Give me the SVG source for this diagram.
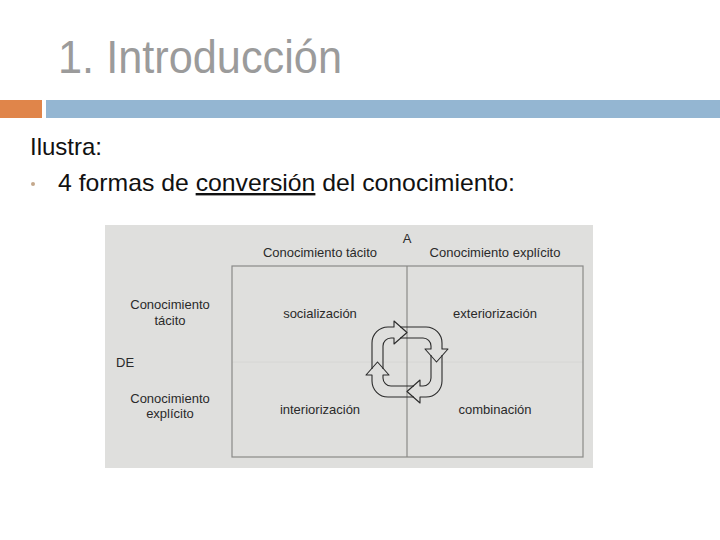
<svg xmlns="http://www.w3.org/2000/svg" width="720" height="540" viewBox="0 0 720 540">
<style>
.t{font-family:"Liberation Sans",Arial,sans-serif;}
.lbl{font-family:"Liberation Sans",Arial,sans-serif;font-size:13px;fill:#2a2a2a;text-anchor:middle;}
.box{fill:none;stroke:#8a8a88;stroke-width:1.2;}
.arr{fill:none;stroke:#2a2a2a;stroke-width:1.1;stroke-linejoin:round;}
</style>
<defs>
<path id="cyc" d="M -35 7 L -35 -19 A 16 16 0 0 1 -19 -35 L -13 -35 L -13 -41 L 0 -29.5 L -13 -18 L -13 -24 L -16 -24 A 8 8 0 0 0 -24 -16 L -24 7"/>
</defs>
<rect width="720" height="540" fill="#ffffff"/>
<g id="header">
<text class="t" x="58" y="73" font-size="46" fill="#9b9b9b" textLength="284" lengthAdjust="spacingAndGlyphs">1. Introducción</text>
<rect x="0" y="100" width="42" height="18" fill="#e0854a"/>
<rect x="46" y="100" width="674" height="18" fill="#94b6d2"/>
</g>
<g id="body">
<text class="t" x="30" y="155" font-size="24" fill="#111">Ilustra:</text>
<circle cx="33" cy="184" r="2" fill="#c4a88c"/>
<text class="t" x="58" y="191" font-size="24" fill="#111" textLength="457" lengthAdjust="spacingAndGlyphs">4 formas de <tspan text-decoration="underline">conversión</tspan> del conocimiento:</text>
</g>
<g id="panel">
<rect x="105" y="225" width="488" height="243" fill="#dfdfdd"/>
<line x1="232" y1="362" x2="583" y2="362" stroke="#d6d6d4" stroke-width="1"/>
<rect class="box" x="232" y="266" width="351" height="191"/>
<line class="box" x1="407" y1="266" x2="407" y2="457"/>
</g>
<g id="labels">
<text class="lbl" x="407" y="243">A</text>
<text class="lbl" x="320" y="257">Conocimiento tácito</text>
<text class="lbl" x="495" y="257">Conocimiento explícito</text>
<text class="lbl" x="170" y="309">Conocimiento</text>
<text class="lbl" x="170" y="325">tácito</text>
<text class="lbl" x="116" y="367" style="text-anchor:start">DE</text>
<text class="lbl" x="170" y="403">Conocimiento</text>
<text class="lbl" x="170" y="418">explícito</text>
</g>
<g id="socializacion"><text class="lbl" x="320" y="318">socialización</text></g>
<g id="exteriorizacion"><text class="lbl" x="495" y="318">exteriorización</text></g>
<g id="interiorizacion"><text class="lbl" x="320" y="414">interiorización</text></g>
<g id="combinacion"><text class="lbl" x="495" y="414">combinación</text></g>
<g id="connectors" transform="translate(407 362)">
<use href="#cyc" class="arr"/>
<use href="#cyc" class="arr" transform="rotate(90)"/>
<use href="#cyc" class="arr" transform="rotate(180)"/>
<use href="#cyc" class="arr" transform="rotate(270)"/>
</g>
</svg>
